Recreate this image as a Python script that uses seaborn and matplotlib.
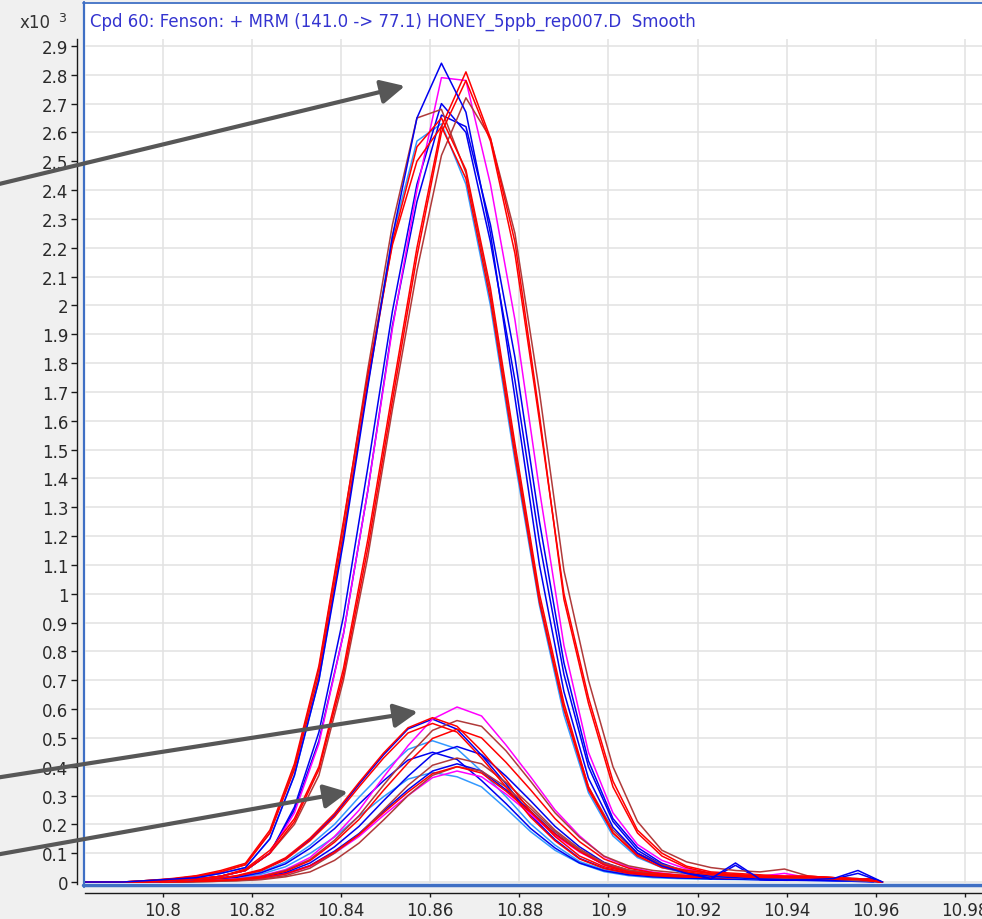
import matplotlib
matplotlib.use("Agg")
import matplotlib.pyplot as plt
import numpy as np
import pandas as pd
import seaborn as sns
from matplotlib.lines import Line2D
from matplotlib.patches import Rectangle
from matplotlib.ticker import FuncFormatter

sns.set_theme(style="white")
plt.rcParams["font.family"] = ["DejaVu Sans"]

# ---- scan times (min) ----
scan_times_a = [10.780, 10.7855, 10.791, 10.7965, 10.802, 10.8075, 10.813, 10.8185,
                10.824, 10.8295, 10.835, 10.8405, 10.846, 10.8515, 10.857, 10.8625,
                10.868, 10.8735, 10.879, 10.8845, 10.890, 10.8955, 10.901, 10.9065,
                10.912, 10.9175, 10.923, 10.9285, 10.934, 10.9395, 10.945, 10.9505,
                10.956, 10.9615]
scan_times_b = [10.778, 10.7835, 10.789, 10.7945, 10.800, 10.8055, 10.811, 10.8165,
                10.822, 10.8275, 10.833, 10.8385, 10.844, 10.8495, 10.855, 10.8605,
                10.866, 10.8715, 10.877, 10.8825, 10.888, 10.8935, 10.899, 10.9045,
                10.910, 10.9155, 10.921, 10.9265, 10.932, 10.9375, 10.943, 10.9485,
                10.954, 10.9595]

# ---- intensities (x10^3 counts), high-level replicates ----
hi_blue_1 = [0, 0, 0, 0.005, 0.01, 0.015, 0.03, 0.05, 0.15, 0.37, 0.70, 1.18, 1.72, 2.24, 2.65, 2.84, 2.67,
             2.25, 1.68, 1.10, 0.66, 0.36, 0.19, 0.10, 0.055, 0.03, 0.012, 0.066, 0.01, 0.008, 0.008, 0.012, 0.04, 0.0]
hi_blue_2 = [0, 0, 0, 0, 0.005, 0.01, 0.02, 0.04, 0.10, 0.25, 0.49, 0.86, 1.36, 1.93, 2.36, 2.66, 2.62,
             2.28, 1.82, 1.25, 0.76, 0.42, 0.22, 0.12, 0.065, 0.035, 0.01, 0.058, 0.008, 0.006, 0.006, 0.01, 0.03, 0.0]
hi_blue_3 = [0, 0, 0, 0, 0.005, 0.01, 0.02, 0.04, 0.10, 0.26, 0.52, 0.92, 1.44, 1.98, 2.42, 2.70, 2.60,
             2.22, 1.74, 1.18, 0.72, 0.40, 0.21, 0.11, 0.06, 0.03, 0.02, 0.015, 0.01, 0.008, 0.006, 0.005, 0.004, 0.0]
hi_lightblue = [0, 0, 0, 0, 0.01, 0.015, 0.03, 0.05, 0.15, 0.37, 0.70, 1.20, 1.74, 2.24, 2.57, 2.63, 2.42,
                2.00, 1.46, 0.96, 0.58, 0.31, 0.16, 0.085, 0.05, 0.03, 0.02, 0.015, 0.01, 0.01, 0.008, 0.006, 0.004, 0.0]
hi_magenta = [0, 0, 0, 0, 0.005, 0.01, 0.02, 0.04, 0.10, 0.24, 0.48, 0.86, 1.36, 1.92, 2.40, 2.79, 2.78,
              2.42, 1.95, 1.36, 0.82, 0.45, 0.24, 0.13, 0.075, 0.045, 0.03, 0.025, 0.02, 0.03, 0.015, 0.01, 0.01, 0.0]
hi_brown_1 = [0, 0, 0, 0.005, 0.01, 0.02, 0.035, 0.06, 0.17, 0.40, 0.74, 1.24, 1.78, 2.28, 2.65, 2.68, 2.46,
              2.04, 1.50, 0.98, 0.60, 0.33, 0.18, 0.10, 0.06, 0.04, 0.03, 0.025, 0.02, 0.015, 0.01, 0.01, 0.005, 0.0]
hi_brown_2 = [0, 0, 0, 0, 0.005, 0.01, 0.02, 0.04, 0.10, 0.20, 0.37, 0.70, 1.13, 1.64, 2.12, 2.52, 2.72,
              2.58, 2.25, 1.70, 1.08, 0.70, 0.40, 0.21, 0.11, 0.07, 0.05, 0.04, 0.035, 0.045, 0.02, 0.015, 0.012, 0.0]
hi_red_1 = [0, 0, 0, 0.005, 0.01, 0.02, 0.035, 0.06, 0.17, 0.39, 0.72, 1.21, 1.73, 2.22, 2.55, 2.65, 2.47,
            2.06, 1.52, 1.00, 0.62, 0.33, 0.17, 0.09, 0.05, 0.035, 0.025, 0.02, 0.015, 0.015, 0.015, 0.01, 0.01, 0.0]
hi_red_2 = [0, 0, 0, 0.005, 0.012, 0.022, 0.04, 0.065, 0.18, 0.41, 0.75, 1.25, 1.76, 2.21, 2.50, 2.62, 2.44,
            2.02, 1.48, 0.97, 0.60, 0.32, 0.17, 0.095, 0.055, 0.04, 0.03, 0.025, 0.02, 0.02, 0.018, 0.015, 0.01, 0.0]
hi_red_3 = [0, 0, 0, 0, 0.005, 0.01, 0.02, 0.045, 0.11, 0.22, 0.40, 0.74, 1.19, 1.70, 2.20, 2.62, 2.81,
            2.58, 2.22, 1.62, 0.98, 0.62, 0.33, 0.17, 0.09, 0.05, 0.03, 0.025, 0.02, 0.02, 0.02, 0.015, 0.01, 0.0]
hi_red_4 = [0, 0, 0, 0, 0.005, 0.01, 0.02, 0.04, 0.10, 0.21, 0.39, 0.72, 1.16, 1.67, 2.17, 2.60, 2.78,
            2.57, 2.18, 1.60, 1.00, 0.64, 0.35, 0.18, 0.10, 0.055, 0.035, 0.03, 0.025, 0.02, 0.02, 0.015, 0.01, 0.0]

# ---- intensities (x10^3 counts), low-level replicates ----
lo_magenta_1 = [0, 0, 0, 0, 0, 0.003, 0.005, 0.011, 0.021, 0.043, 0.085, 0.158, 0.249, 0.364, 0.473, 0.565, 0.607,
                0.576, 0.475, 0.365, 0.25, 0.16, 0.088, 0.052, 0.034, 0.025, 0.02, 0.016, 0.015, 0.02, 0.012, 0.01, 0.008, 0.005]
lo_magenta_2 = [0, 0, 0, 0, 0, 0.002, 0.004, 0.007, 0.013, 0.027, 0.054, 0.1, 0.158, 0.231, 0.3, 0.362, 0.385,
                0.365, 0.305, 0.235, 0.162, 0.104, 0.06, 0.037, 0.026, 0.02, 0.018, 0.016, 0.015, 0.02, 0.014, 0.012, 0.01, 0.008]
lo_blue_1 = [0, 0, 0, 0, 0.002, 0.005, 0.01, 0.02, 0.04, 0.08, 0.147, 0.232, 0.339, 0.441, 0.531, 0.565, 0.53,
             0.44, 0.34, 0.232, 0.147, 0.082, 0.048, 0.031, 0.023, 0.017, 0.014, 0.011, 0.009, 0.007, 0.006, 0.005, 0.003, 0]
lo_blue_2 = [0, 0, 0, 0, 0, 0.002, 0.004, 0.008, 0.016, 0.033, 0.066, 0.122, 0.193, 0.282, 0.367, 0.442, 0.47,
             0.442, 0.367, 0.282, 0.193, 0.122, 0.068, 0.04, 0.026, 0.019, 0.015, 0.012, 0.01, 0.009, 0.008, 0.007, 0.005, 0.003]
lo_blue_3 = [0, 0, 0, 0, 0.002, 0.004, 0.008, 0.016, 0.032, 0.063, 0.117, 0.185, 0.27, 0.351, 0.423, 0.45, 0.425,
             0.352, 0.272, 0.186, 0.118, 0.066, 0.039, 0.025, 0.018, 0.014, 0.012, 0.01, 0.009, 0.008, 0.007, 0.006, 0.005, 0.003]
lo_blue_4 = [0, 0, 0, 0, 0, 0.002, 0.004, 0.007, 0.014, 0.029, 0.057, 0.107, 0.168, 0.246, 0.32, 0.385, 0.41,
             0.385, 0.32, 0.246, 0.168, 0.107, 0.06, 0.035, 0.023, 0.016, 0.013, 0.011, 0.01, 0.009, 0.008, 0.007, 0.005, 0.003]
lo_lightblue_1 = [0, 0, 0, 0, 0.002, 0.004, 0.009, 0.017, 0.034, 0.069, 0.127, 0.2, 0.294, 0.382, 0.46, 0.49, 0.462,
                  0.384, 0.296, 0.202, 0.128, 0.071, 0.042, 0.027, 0.02, 0.016, 0.014, 0.013, 0.012, 0.011, 0.01, 0.009, 0.007, 0.005]
lo_lightblue_2 = [0, 0, 0, 0, 0.002, 0.003, 0.006, 0.013, 0.027, 0.053, 0.099, 0.156, 0.228, 0.296, 0.357, 0.38, 0.365,
                  0.33, 0.255, 0.175, 0.11, 0.065, 0.036, 0.022, 0.015, 0.012, 0.01, 0.009, 0.008, 0.007, 0.006, 0.005, 0.004, 0.003]
lo_brown_1 = [0, 0, 0, 0, 0, 0.003, 0.005, 0.01, 0.02, 0.04, 0.078, 0.145, 0.23, 0.336, 0.437, 0.526, 0.56,
              0.54, 0.455, 0.35, 0.24, 0.155, 0.09, 0.056, 0.04, 0.032, 0.026, 0.022, 0.02, 0.018, 0.016, 0.014, 0.012, 0.01]
lo_brown_2 = [0, 0, 0, 0, 0, 0, 0.002, 0.005, 0.01, 0.022, 0.048, 0.1, 0.165, 0.25, 0.335, 0.405, 0.43,
              0.41, 0.345, 0.265, 0.18, 0.115, 0.065, 0.04, 0.028, 0.022, 0.02, 0.018, 0.017, 0.016, 0.015, 0.014, 0.012, 0.01]
lo_brown_3 = [0, 0, 0, 0, 0, 0, 0.002, 0.004, 0.008, 0.018, 0.035, 0.075, 0.135, 0.215, 0.3, 0.37, 0.4,
              0.385, 0.33, 0.255, 0.175, 0.11, 0.066, 0.042, 0.03, 0.024, 0.02, 0.018, 0.017, 0.016, 0.015, 0.013, 0.011, 0.009]
lo_red_1 = [0, 0, 0, 0, 0.003, 0.006, 0.011, 0.022, 0.043, 0.084, 0.152, 0.238, 0.345, 0.447, 0.535, 0.57, 0.54,
            0.455, 0.355, 0.245, 0.158, 0.09, 0.053, 0.035, 0.026, 0.02, 0.018, 0.016, 0.015, 0.015, 0.014, 0.012, 0.01, 0.008]
lo_red_2 = [0, 0, 0, 0, 0, 0.002, 0.004, 0.009, 0.018, 0.037, 0.074, 0.138, 0.217, 0.318, 0.413, 0.498, 0.53,
            0.5, 0.415, 0.32, 0.22, 0.14, 0.08, 0.048, 0.032, 0.024, 0.02, 0.018, 0.02, 0.018, 0.017, 0.015, 0.012, 0.01]
lo_red_3 = [0, 0, 0, 0, 0.002, 0.004, 0.01, 0.02, 0.039, 0.078, 0.143, 0.226, 0.33, 0.43, 0.517, 0.55, 0.52,
            0.43, 0.33, 0.225, 0.143, 0.08, 0.047, 0.03, 0.022, 0.018, 0.016, 0.015, 0.014, 0.013, 0.012, 0.01, 0.008, 0.006]
lo_red_4 = [0, 0, 0, 0, 0, 0.002, 0.004, 0.007, 0.014, 0.028, 0.056, 0.104, 0.164, 0.24, 0.312, 0.376, 0.4,
            0.378, 0.315, 0.242, 0.166, 0.106, 0.06, 0.036, 0.025, 0.02, 0.018, 0.016, 0.016, 0.015, 0.014, 0.013, 0.011, 0.009]

# ---- axis ticks and header text ----
x_ticks = [10.80, 10.82, 10.84, 10.86, 10.88, 10.90, 10.92, 10.94, 10.96, 10.98]
y_ticks = [0, 0.1, 0.2, 0.3, 0.4, 0.5, 0.6, 0.7, 0.8, 0.9, 1.0, 1.1, 1.2, 1.3, 1.4,
           1.5, 1.6, 1.7, 1.8, 1.9, 2.0, 2.1, 2.2, 2.3, 2.4, 2.5, 2.6, 2.7, 2.8, 2.9]
header = "Cpd 60: Fenson: + MRM (141.0 -> 77.1) HONEY_5ppb_rep007.D  Smooth"
# callout arrows: tip positions (time, intensity)
arrow_tip_t = [10.8543, 10.8572, 10.8415]
arrow_tip_y = [2.761, 0.590, 0.312]

BLUE, LIGHTBLUE, MAGENTA, BROWN, RED = "#0000f0", "#3399ff", "#ff00ff", "#b03a3a", "#ff0000"

traces = [
    ("lo_lightblue_1", LIGHTBLUE, scan_times_b, lo_lightblue_1),
    ("lo_lightblue_2", LIGHTBLUE, scan_times_b, lo_lightblue_2),
    ("lo_blue_1", BLUE, scan_times_b, lo_blue_1),
    ("lo_blue_2", BLUE, scan_times_b, lo_blue_2),
    ("lo_blue_3", BLUE, scan_times_b, lo_blue_3),
    ("lo_blue_4", BLUE, scan_times_b, lo_blue_4),
    ("lo_magenta_1", MAGENTA, scan_times_b, lo_magenta_1),
    ("lo_magenta_2", MAGENTA, scan_times_b, lo_magenta_2),
    ("lo_brown_1", BROWN, scan_times_b, lo_brown_1),
    ("lo_brown_2", BROWN, scan_times_b, lo_brown_2),
    ("lo_brown_3", BROWN, scan_times_b, lo_brown_3),
    ("lo_red_1", RED, scan_times_b, lo_red_1),
    ("lo_red_2", RED, scan_times_b, lo_red_2),
    ("lo_red_3", RED, scan_times_b, lo_red_3),
    ("lo_red_4", RED, scan_times_b, lo_red_4),
    ("hi_lightblue", LIGHTBLUE, scan_times_a, hi_lightblue),
    ("hi_blue_3", BLUE, scan_times_a, hi_blue_3),
    ("hi_blue_2", BLUE, scan_times_a, hi_blue_2),
    ("hi_magenta", MAGENTA, scan_times_a, hi_magenta),
    ("hi_brown_1", BROWN, scan_times_a, hi_brown_1),
    ("hi_brown_2", BROWN, scan_times_a, hi_brown_2),
    ("hi_red_1", RED, scan_times_a, hi_red_1),
    ("hi_red_2", RED, scan_times_a, hi_red_2),
    ("hi_red_3", RED, scan_times_a, hi_red_3),
    ("hi_red_4", RED, scan_times_a, hi_red_4),
    ("hi_blue_1", BLUE, scan_times_a, hi_blue_1),
]

frames = []
for name, color, times, vals in traces:
    assert len(times) == len(vals), name
    frames.append(pd.DataFrame({"time": times, "intensity": vals, "trace": name}))
df = pd.concat(frames, ignore_index=True)
palette = {name: color for name, color, _, _ in traces}
order = [name for name, _, _, _ in traces]

# ---- figure layout in pixels ----
W, H = 982, 920
fig = plt.figure(figsize=(W / 100, H / 100), dpi=100, facecolor="#f0f0f0")


def fx(px):
    return px / W


def fy(py):
    return 1 - py / H


frame_blue = "#3f6fc4"
# white panel behind the header and the plot, with its blue frame
panel = Rectangle((fx(83), fy(886)), 1 - fx(83), fy(3) - fy(886),
                  transform=fig.transFigure, facecolor="white",
                  edgecolor="none", zorder=-10)
fig.add_artist(panel)
fig.add_artist(Line2D([fx(83.5), fx(83.5)], [fy(3), fy(887.5)], color=frame_blue,
                      lw=1.6, transform=fig.transFigure, zorder=5))
fig.add_artist(Line2D([fx(83), 1], [fy(3.5), fy(3.5)], color=frame_blue,
                      lw=1.3, transform=fig.transFigure, zorder=5))
fig.add_artist(Line2D([fx(83), 1], [fy(886.3), fy(886.3)], color=frame_blue,
                      lw=2.5, transform=fig.transFigure, zorder=5))

ax = fig.add_axes([fx(84.5), fy(885), fx(982) - fx(84.5), fy(40) - fy(885)])
# transparent axes background so the axes (and its callout arrows) can sit above the frame
ax.set_facecolor("none")
ax.set_zorder(6)

sns.lineplot(data=df, x="time", y="intensity", hue="trace", hue_order=order,
             palette=palette, estimator=None, sort=False, legend=False,
             linewidth=1.1, ax=ax)

ax.set_xlim(10.78238, 10.98384)
ax.set_ylim(-0.0069, 2.924)
ax.set_xticks(x_ticks)
ax.set_yticks(y_ticks)
ax.xaxis.set_major_formatter(FuncFormatter(lambda v, p: f"{v:g}"))
ax.yaxis.set_major_formatter(FuncFormatter(lambda v, p: f"{v:g}"))
ax.grid(True, color="#e2e2e2", lw=1.1)
ax.set_axisbelow(True)
ax.set_xlabel("")
ax.set_ylabel("")

for s in ("top", "right"):
    ax.spines[s].set_visible(False)
ax.spines["left"].set_position(("outward", 5.5))
ax.spines["left"].set_color("#1a1a1a")
ax.spines["left"].set_linewidth(1.0)
ax.spines["bottom"].set_position(("outward", 6.5))
ax.spines["bottom"].set_color("#1a1a1a")
ax.spines["bottom"].set_linewidth(1.0)
ax.tick_params(axis="x", direction="out", length=3, width=1, color="#1a1a1a",
               pad=3, labelsize=12, labelcolor="#2a2a2a", bottom=True)
ax.tick_params(axis="y", direction="out", length=4, width=1, color="#1a1a1a",
               pad=2, labelsize=12, labelcolor="#2a2a2a", left=True)

fig.text(fx(20), fy(23), "x10", fontsize=12, color="#333333", va="center", ha="left")
fig.text(fx(58), fy(18), "3", fontsize=9, color="#333333", va="center", ha="left")
fig.text(fx(90), fy(22), header, fontsize=12, color="#3434d0", va="center", ha="left")

tails_px = [(-5, H - 186), (-5, H - 779), (-5, H - 856)]
for t, y, tail in zip(arrow_tip_t, arrow_tip_y, tails_px):
    ann = ax.annotate("", xy=(t, y), xycoords="data", xytext=tail,
                      textcoords="figure pixels", annotation_clip=False,
                      arrowprops=dict(arrowstyle="-|>,head_length=0.9,head_width=0.45",
                                      mutation_scale=16, color="#575757", lw=3.0,
                                      shrinkA=0, shrinkB=0))
    ann.arrow_patch.set_clip_on(False)

fig.savefig("out.png", dpi=100, facecolor=fig.get_facecolor())
